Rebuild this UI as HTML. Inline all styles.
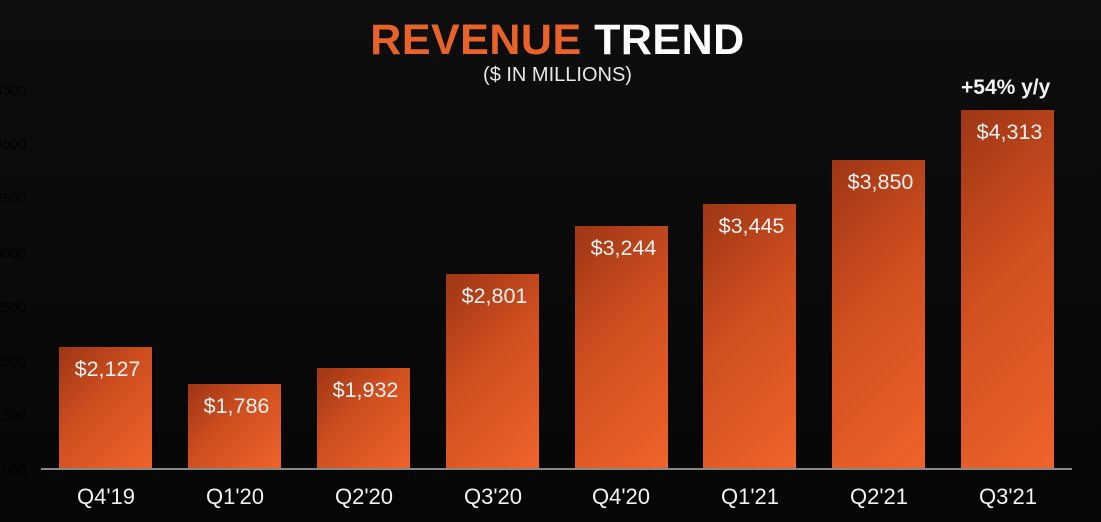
<!DOCTYPE html>
<html><head><meta charset="utf-8"><style>
*{margin:0;padding:0;box-sizing:border-box}
body{width:1101px;height:522px;overflow:hidden;background:linear-gradient(#0e0e0e,#060606);font-family:"Liberation Sans",Arial,sans-serif;position:relative}
.t{position:absolute;left:0;width:1101px;text-align:center;top:16px;font-size:43px;font-weight:bold;color:#fff;letter-spacing:0.5px;padding-left:14px}
.t span{color:#e8622a}
.s{position:absolute;left:0;width:1101px;text-align:center;top:64px;font-size:20px;color:#e8e8e8;padding-left:14px}
.b{position:absolute;width:93px;bottom:53px;background:linear-gradient(135deg,#9e3614 0%,#d04f20 45%,#f0632c 100%)}
.v{position:absolute;left:4px;right:0;text-align:center;top:10px;font-size:21.5px;color:#f2f2f2}
.c{position:absolute;width:130px;text-align:center;top:484px;font-size:22px;color:#f2f2f2}
.ax{position:absolute;left:41px;width:1031px;top:468px;height:2px;background:#888}
.y{position:absolute;left:-14px;font-size:14px;color:#000;width:40px;text-align:right}
.g{position:absolute;left:961px;top:76px;font-size:21px;font-weight:bold;color:#f2f2f2}
</style></head><body>
<div class="t"><span>REVENUE</span> TREND</div>
<div class="s">($ IN MILLIONS)</div>
<div class="y" style="top:82px">4500</div>
<div class="y" style="top:136px">4000</div>
<div class="y" style="top:190px">3500</div>
<div class="y" style="top:245px">3000</div>
<div class="y" style="top:299px">2500</div>
<div class="y" style="top:353px">2000</div>
<div class="y" style="top:407px">1500</div>
<div class="y" style="top:462px">1000</div>
<div class="b" style="left:59px;top:347px"><div class="v">$2,127</div></div>
<div class="b" style="left:188px;top:384px"><div class="v">$1,786</div></div>
<div class="b" style="left:317px;top:368px"><div class="v">$1,932</div></div>
<div class="b" style="left:446px;top:274px"><div class="v">$2,801</div></div>
<div class="b" style="left:575px;top:226px"><div class="v">$3,244</div></div>
<div class="b" style="left:703px;top:204px"><div class="v">$3,445</div></div>
<div class="b" style="left:832px;top:160px"><div class="v">$3,850</div></div>
<div class="b" style="left:961px;top:110px"><div class="v">$4,313</div></div>
<div class="ax"></div>
<div class="g">+54% y/y</div>
<div class="c" style="left:41px">Q4'19</div>
<div class="c" style="left:170px">Q1'20</div>
<div class="c" style="left:299px">Q2'20</div>
<div class="c" style="left:428px">Q3'20</div>
<div class="c" style="left:556px">Q4'20</div>
<div class="c" style="left:685px">Q1'21</div>
<div class="c" style="left:814px">Q2'21</div>
<div class="c" style="left:943px">Q3'21</div>
</body></html>
